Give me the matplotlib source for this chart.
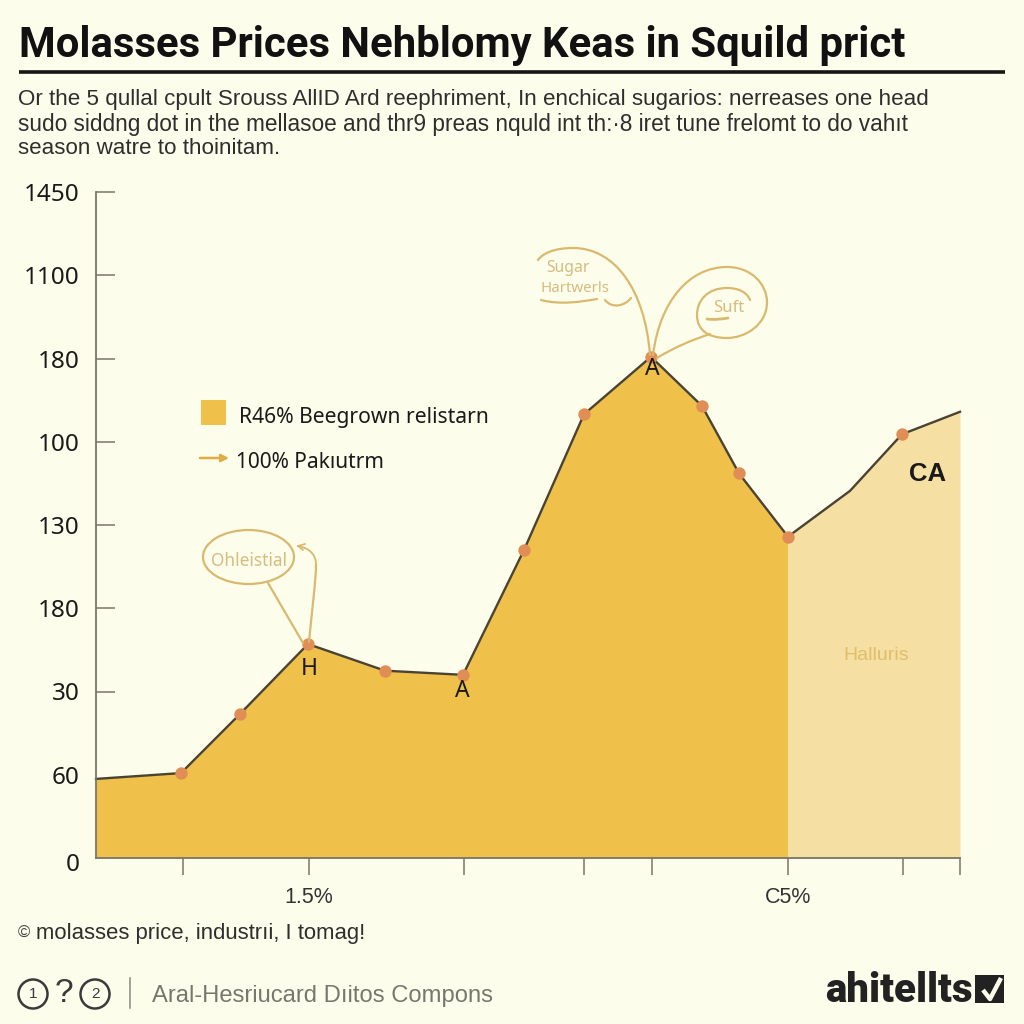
import matplotlib
matplotlib.use("Agg")
import matplotlib.pyplot as plt
from matplotlib.patches import Ellipse, PathPatch, Rectangle, Circle
from matplotlib.path import Path
from matplotlib.transforms import ScaledTranslation

# values, y in tick steps (the tick labels are not monotonic)
x_pos = [0, 85, 144, 212, 289, 367, 428, 488, 555, 606, 643, 692, 754, 806, 864]
y_val = [0.95, 1.02, 1.73, 2.57, 2.25, 2.20, 3.70, 5.33, 6.02, 5.43, 4.62, 3.86, 4.41, 5.09, 5.36]
dot_idx = [1, 2, 3, 4, 5, 6, 7, 8, 9, 10, 11, 13]
split = 11

y_labels = ["0", "60", "30", "180", "130", "100", "180", "1100", "1450"]
x_ticks = [87, 213, 368, 488, 556, 692, 807, 864]
x_labels = ["", "1.5%", "", "", "", "C5%", "", ""]

BG = "#FDFDEB"
GOLD = "#EFC04A"
PALE = "#F5DFA2"
TAN = "#D9B96E"
SOFT = "#D5BC80"
LINE = "#4A4334"
DOT = "#E08E55"
INK = "#1A1A1A"
AXIS = "#77766A"
NOTO = ["Noto Sans", "DejaVu Sans"]

fig = plt.figure(figsize=(10.24, 10.24), dpi=100, facecolor=BG)
plt.rcParams["font.family"] = ["Liberation Sans", "DejaVu Sans"]

# ___________
# CHART
# ___________
ax = fig.add_axes([96 / 1024, 1 - 858 / 1024, 864 / 1024, 666 / 1024], facecolor="none")
ax.set_xlim(0, 864)
ax.set_ylim(0, 8)
ax.fill_between(x_pos[:split + 1], y_val[:split + 1], color=GOLD, lw=0)
ax.fill_between(x_pos[split:], y_val[split:], color=PALE, lw=0)
ax.plot(x_pos, y_val, color=LINE, lw=1.7, clip_on=False)
ax.scatter([x_pos[i] for i in dot_idx], [y_val[i] for i in dot_idx], s=80, color=DOT, zorder=3, lw=0)

for s in ["top", "right"]:
    ax.spines[s].set_visible(False)
for s in ["left", "bottom"]:
    ax.spines[s].set_color(AXIS)
    ax.spines[s].set_linewidth(1.3)
ax.set_yticks(range(9))
ax.set_yticklabels(y_labels, fontsize=17.5, color=INK, family=NOTO)
ax.tick_params(axis="y", direction="in", length=14, width=1.1, color=AXIS, pad=12)
ax.set_xticks(x_ticks)
ax.set_xticklabels(x_labels, fontsize=15.5, color="#333333")
ax.tick_params(axis="x", direction="out", length=12, width=1.1, color=AXIS, pad=9)

# the two lowest labels have no tick mark, and 0 sits a little low
ticks = ax.yaxis.get_major_ticks()
ticks[0].tick1line.set_visible(False)
ticks[1].tick1line.set_visible(False)
lab0 = ticks[0].label1
lab0.set_transform(lab0.get_transform() + ScaledTranslation(0, -3 / 72, fig.dpi_scale_trans))

# ___________
# OVERLAY, in picture pixels
# ___________
ov = fig.add_axes([0, 0, 1, 1], facecolor="none")
ov.set_xlim(0, 1024)
ov.set_ylim(1024, 0)
ov.axis("off")


def curve(points, lw=1.6, color=TAN):
    codes = [Path.MOVETO] + [Path.CURVE4] * (len(points) - 1)
    ov.add_patch(PathPatch(Path(points, codes), fill=False, edgecolor=color, lw=lw, capstyle="round"))


ov.text(19, 46, "Molasses Prices Nehblomy Keas in Squild prict", fontsize=30.15, fontweight="bold",
        color="#111111", va="center", family=["Roboto", "DejaVu Sans"])
ov.plot([19, 1005], [72, 72], color="#161616", lw=2.6, solid_capstyle="butt")

for y, t, size in [(99, "Or the 5 qullal cpult Srouss AllID Ard reephriment, In enchical sugarios: nerreases one head", 16.1),
                   (125, "sudo siddng dot in the mellasoe and thr9 preas nquld int th:·8 iret tune frelomt to do vahıt", 16.25),
                   (148, "season watre to thoinitam.", 16.1)]:
    ov.text(18, y, t, fontsize=size, color="#2E2E2E", va="center")

# legend
ov.add_patch(Rectangle((201, 400), 25, 25, color=GOLD, lw=0))
ov.text(239, 418, "R46% Beegrown relistarn", fontsize=15.2, color=INK, va="center", family=NOTO)
ov.annotate("", xy=(229, 458), xytext=(200, 458),
            arrowprops=dict(arrowstyle="-|>", color="#E0AC45", lw=1.8, mutation_scale=11, shrinkA=0, shrinkB=0))
ov.text(236, 463, "100% Pakıutrm", fontsize=15, color=INK, va="center", family=NOTO)

# letters on the peaks
ov.text(309, 669, "H", fontsize=16.5, color=INK, ha="center", va="center", family=NOTO)
ov.text(462, 691, "A", fontsize=16.5, color=INK, ha="center", va="center", family=NOTO)
ov.text(652, 369, "A", fontsize=16.5, color=INK, ha="center", va="center", family=NOTO)
ov.text(928, 474, "CA", fontsize=18.5, fontweight="bold", color=INK, ha="center", va="center")
ov.text(876, 656, "Halluris", fontsize=14, color="#E0BE6C", ha="center", va="center")

# callout on the left peak
ov.add_patch(Ellipse((248.5, 557), 91, 54, fill=False, edgecolor=TAN, lw=1.6))
ov.text(249, 561, "Ohleistial", fontsize=12.4, color=SOFT, ha="center", va="center", family=NOTO)
ov.plot([268, 303], [583, 643], color=TAN, lw=1.6)
curve([(309, 642), (312, 610), (316, 580), (316, 565)])
curve([(316, 565), (316, 553), (308, 548), (298, 546)], lw=1.3)
ov.plot([298, 303], [546, 550], color=TAN, lw=1.2)
ov.plot([298, 305], [546, 544], color=TAN, lw=1.2)

# callouts on the top peak
curve([(650, 355), (645, 290), (615, 248), (573, 248)])
curve([(573, 248), (555, 248), (543, 253), (538, 260)])
curve([(541, 300), (560, 305), (580, 302), (597, 299)])
curve([(605, 300), (612, 309), (625, 306), (631, 298)])
curve([(653, 355), (660, 300), (690, 267), (727, 267)])
curve([(727, 267), (752, 267), (767, 285), (767, 302)])
curve([(767, 302), (767, 325), (745, 338), (727, 338)])
curve([(727, 338), (708, 338), (697, 330), (697, 315)])
curve([(697, 315), (697, 300), (708, 288), (727, 288)])
curve([(727, 288), (738, 288), (747, 292), (750, 300)])
curve([(657, 358), (675, 347), (692, 340), (710, 334)])
curve([(707, 319), (715, 320), (722, 319), (728, 318)], lw=2)
ov.text(546, 268, "Sugar", fontsize=11.3, color=SOFT, va="center", family=NOTO)
ov.text(541, 288, "Hartwerls", fontsize=10.8, color=SOFT, va="center", family=NOTO)
ov.text(713, 308, "Suft", fontsize=12, color=SOFT, va="center", family=NOTO)

# footer
ov.text(18, 933, "©", fontsize=12, color="#444444", va="center")
ov.text(36, 934, "molasses price, industrıi, I tomag!", fontsize=15.9, color="#2E2E2E", va="center")
for cx, t in [(33, "1"), (95, "2")]:
    ov.add_patch(Circle((cx, 994), 14.5, fill=False, edgecolor="#3A3A3A", lw=1.8))
    ov.text(cx, 994, t, fontsize=11, color="#3A3A3A", ha="center", va="center")
ov.text(64, 994, "?", fontsize=24, color="#3A3A3A", ha="center", va="center")
ov.plot([130, 130], [978, 1008], color="#8A8A80", lw=1.1)
ov.text(152, 996, "Aral-Hesriucard Dıitos Compons", fontsize=17.15, color="#77776E", va="center")
ov.text(825, 1002, "ahitellts", fontsize=29, fontweight="black", color="#222222", va="baseline",
        family=["Roboto", "DejaVu Sans"])
ov.add_patch(Rectangle((975, 975), 29, 28, color="#222222", lw=0))
ov.plot([983, 990, 1001], [990, 999, 978], color=BG, lw=3.2, solid_capstyle="butt")

fig.savefig("out.png", dpi=100, facecolor=BG)
